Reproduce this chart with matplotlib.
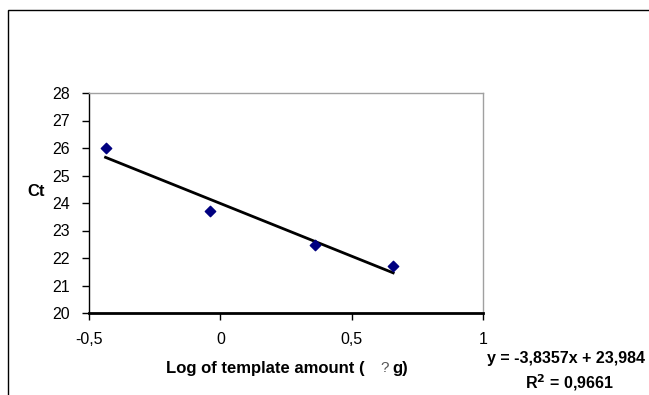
import matplotlib
matplotlib.use("Agg")
import matplotlib.pyplot as plt
from matplotlib.patches import Rectangle
import numpy as np

plt.rcParams['font.family'] = ['Liberation Sans', 'DejaVu Sans']

log_amount = [-0.437, -0.038, 0.359, 0.658]
ct_values = [26.0, 23.72, 22.47, 21.72]
slope = -3.8357
intercept = 23.984
r_squared = 0.9661
x_ticks = [-0.5, 0, 0.5, 1]
x_tick_labels = ["-0,5", "0", "0,5", "1"]
y_ticks = [20, 21, 22, 23, 24, 25, 26, 27, 28]

W, H = 649, 395
fig = plt.figure(figsize=(W / 100, H / 100), dpi=100)

# outer chart border
fig.patches.append(Rectangle((7.5 / W, -0.1), 1.2, 1.1 - 10.5 / H, transform=fig.transFigure,
                             fill=False, edgecolor='black', linewidth=1.0))

ax = fig.add_axes([89 / W, 1 - 313 / H, (483 - 89) / W, (313 - 93) / H])
ax.set_xlim(-0.5, 1)
ax.set_ylim(20, 28)

ax.scatter(log_amount, ct_values, marker='D', s=28, color='#000080', zorder=3)
xs = np.array([min(log_amount), max(log_amount)])
ax.plot(xs, slope * xs + intercept, color='black', linewidth=2.0, zorder=2)

ax.set_xticks(x_ticks)
ax.set_xticklabels(x_tick_labels)
ax.set_yticks(y_ticks)
ax.tick_params(axis='x', direction='out', length=5, pad=9, labelsize=11.5, width=1)
ax.tick_params(axis='y', direction='out', length=5, pad=9, labelsize=11.5, width=1)

for side in ['top', 'right']:
    ax.spines[side].set_color('#a0a0a0')
    ax.spines[side].set_linewidth(1.0)
ax.spines['left'].set_color('black')
ax.spines['left'].set_linewidth(1.0)
ax.spines['bottom'].set_color('black')
ax.spines['bottom'].set_linewidth(2.0)

fig.text(36 / W, 1 - 192 / H, "Ct", fontsize=12, fontweight='bold', ha='center', va='center')
fig.text(166 / W, 1 - 368 / H, "Log of template amount (", fontsize=12,
         fontweight='bold', ha='left', va='center')
fig.text(385 / W, 1 - 368 / H, "?", fontsize=11, color='#555555', ha='center', va='center')
fig.text(408 / W, 1 - 368 / H, "g)", fontsize=12,
         fontweight='bold', ha='right', va='center')

eq = "y = -3,8357x + 23,984"
fig.text(566 / W, 1 - 358 / H, eq, fontsize=11.5, fontweight='bold', ha='center', va='center')
fig.text(569 / W, 1 - 383 / H, r"R$^{\mathbf{2}}$ = " + f"{r_squared}".replace('.', ','),
         fontsize=11.5, fontweight='bold', ha='center', va='center')

fig.savefig("out.png", dpi=100)
